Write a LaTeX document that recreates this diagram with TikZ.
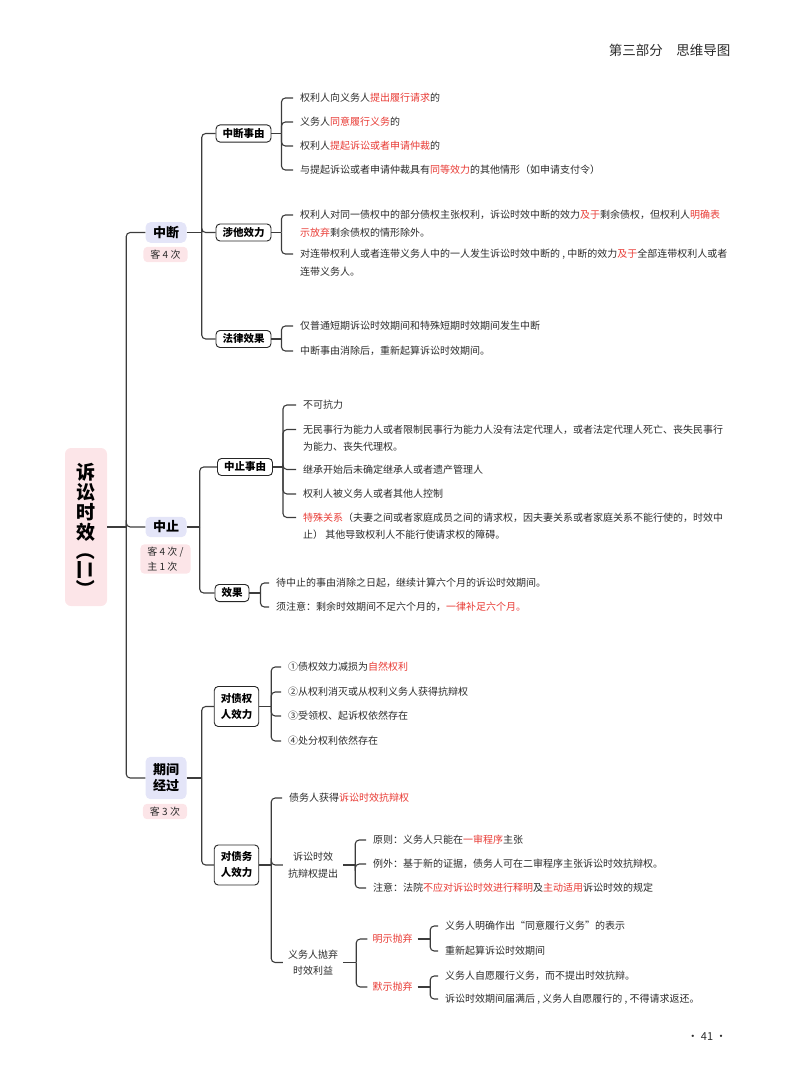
\documentclass[tikz,border=0pt]{standalone}
\usepackage{fontspec}
\setmainfont{Noto Sans CJK SC}
\usetikzlibrary{calc}
\definecolor{hl}{HTML}{E83A34}
\definecolor{ink}{HTML}{2B2B2B}
\definecolor{lnc}{HTML}{3C3C3C}
\definecolor{lav}{HTML}{E4E5F8}
\definecolor{pinkp}{HTML}{FCE5E8}
\newcommand\hr[1]{\textcolor{hl}{#1}}
\newcommand\lstr{\rule{0pt}{9pt}}
\newcommand\lf[4]{\node[leaf] (#1) at (#2-7,#3-5.4) {\lstr #4};
  \coordinate (#1t) at ([yshift=-5.4pt]#1.north west);}
\begin{document}
\begin{tikzpicture}[x=1pt,y=-1pt,
 conn/.style={draw=lnc, line width=1.1pt, rounded corners=4pt},
 leaf/.style={inner xsep=7pt, inner ysep=0pt, anchor=north west, align=left, text=ink, font=\fontsize{10}{17.5}\selectfont},
 midbox/.style={draw=black!85, line width=0.9pt, rounded corners=4pt, fill=white, font=\fontsize{10.5}{16}\selectfont\bfseries, inner xsep=6.5pt, inner ysep=3.5pt, align=center, text=black},
 topbox/.style={fill=lav, rounded corners=5pt, font=\fontsize{13}{16}\selectfont\bfseries, inner xsep=7.5pt, inner ysep=4pt, align=center, text=black},
 pill/.style={fill=pinkp, rounded corners=4pt, font=\fontsize{10}{15}\selectfont, inner xsep=7pt, inner ysep=3pt, align=left, text=ink},
 plain/.style={font=\fontsize{10}{16.5}\selectfont, align=center, text=ink, inner xsep=5pt, inner ysep=1pt},
]
\useasboundingbox (0,0) rectangle (800,1086);

% header and page number
\node[anchor=east, font=\fontsize{13.5}{16}\selectfont, text=ink] (hdr) at (734,50) {第三部分\hspace{1em}思维导图};
\node[font=\fontsize{11}{13}\selectfont, text=ink] (pg) at (707,1037) {· 41 ·};

% root
\node[fill=pinkp, rounded corners=6pt, minimum width=42pt, minimum height=158pt, inner sep=0pt] (root) at (86,527) {};
\node[inner sep=0pt, align=center, font=\fontsize{19}{20}\selectfont\bfseries, text=black] (roott) at (86,531) {诉\\讼\\时\\效\\[-1pt]\rotatebox[origin=c]{-90}{（二）}};

% level 1
\node[topbox] (zd) at (166,232.5) {中断};
\node[pill] (zdp) at (165.5,254.5) {客 4 次};
\node[topbox] (zz) at (166,527) {中止};
\node[pill, inner ysep=2.5pt] (zzp) at (165.5,559) {客 4 次 /\\主 1 次};
\node[topbox, inner ysep=7pt] (qj) at (166,778) {期间\\经过};
\node[pill] (qjp) at (165,811.5) {客 3 次};

\coordinate (rootJ) at ([xshift=19pt]root.east);
\draw[conn] (root.east) -- (rootJ);
\draw[conn] (rootJ) |- (zd.west);
\draw[conn] (rootJ) |- (zz.west);
\draw[conn] (rootJ) |- (qj.west);

% level 2
\node[midbox] (zdsy) at (243.5,133.5) {中断事由};
\node[midbox] (tt) at (243.5,232.5) {涉他效力};
\node[midbox] (fl) at (243.5,339) {法律效果};
\node[midbox] (zzsy) at (245,467) {中止事由};
\node[midbox] (xg) at (232,593) {效果};
\node[midbox, inner ysep=7pt] (zqr) at (236.5,706.5) {对债权\\人效力};
\node[midbox, inner ysep=7pt] (zwr) at (236.5,865) {对债务\\人效力};

\coordinate (zdJ) at ([xshift=15pt]zd.east);
\draw[conn] (zd.east) -- (zdJ);
\draw[conn] (zdJ) |- (zdsy.west);
\draw[conn] (zdJ) |- (tt.west);
\draw[conn] (zdJ) |- (fl.west);

\coordinate (zzJ) at ([xshift=13pt]zz.east);
\draw[conn] (zz.east) -- (zzJ);
\draw[conn] (zzJ) |- (zzsy.west);
\draw[conn] (zzJ) |- (xg.west);

\coordinate (qjJ) at ([xshift=15pt]qj.east);
\draw[conn] (qj.east) -- (qjJ);
\draw[conn] (qjJ) |- (zqr.west);
\draw[conn] (qjJ) |- (zwr.west);

% 中断事由 leaves
\lf{a1}{300}{98}{权利人向义务人\hr{提出履行请求}的}
\lf{a2}{300}{122}{义务人\hr{同意履行义务}的}
\lf{a3}{300}{146}{权利人\hr{提起诉讼或者申请仲裁}的}
\lf{a4}{300}{170}{与提起诉讼或者申请仲裁具有\hr{同等效力}的其他情形（如申请支付令）}
\coordinate (zdsyJ) at ([xshift=10pt]zdsy.east);
\draw[conn] (zdsy.east) -- (zdsyJ);
\foreach \c in {a1,a2,a3,a4} \draw[conn] (zdsyJ) |- (\c t);

% 涉他效力 leaves
\lf{b1}{300}{215}{权利人对同一债权中的部分债权主张权利，诉讼时效中断的效力\hr{及于}剩余债权，但权利人\hr{明确表}\\\hr{示放弃}剩余债权的情形除外。}
\lf{b2}{300}{254}{对连带权利人或者连带义务人中的一人发生诉讼时效中断的 , 中断的效力\hr{及于}全部连带权利人或者\\连带义务人。}
\coordinate (ttJ) at ([xshift=10pt]tt.east);
\draw[conn] (tt.east) -- (ttJ);
\foreach \c in {b1,b2} \draw[conn] (ttJ) |- (\c t);

% 法律效果 leaves
\lf{c1}{300}{326}{仅普通短期诉讼时效期间和特殊短期时效期间发生中断}
\lf{c2}{300}{351}{中断事由消除后，重新起算诉讼时效期间。}
\coordinate (flJ) at ([xshift=10pt]fl.east);
\draw[conn] (fl.east) -- (flJ);
\foreach \c in {c1,c2} \draw[conn] (flJ) |- (\c t);

% 中止事由 leaves
\lf{d1}{303}{405}{不可抗力}
\lf{d2}{303}{429.5}{无民事行为能力人或者限制民事行为能力人没有法定代理人，或者法定代理人死亡、丧失民事行\\为能力、丧失代理权。}
\lf{d3}{303}{469.5}{继承开始后未确定继承人或者遗产管理人}
\lf{d4}{303}{494}{权利人被义务人或者其他人控制}
\lf{d5}{303}{517.5}{\hr{特殊关系}（夫妻之间或者家庭成员之间的请求权，因夫妻关系或者家庭关系不能行使的，时效中\\止） 其他导致权利人不能行使请求权的障碍。}
\coordinate (zzsyJ) at ([xshift=10pt]zzsy.east);
\draw[conn] (zzsy.east) -- (zzsyJ);
\foreach \c in {d1,d2,d3,d4,d5} \draw[conn] (zzsyJ) |- (\c t);

% 效果 leaves
\lf{e1}{276}{583}{待中止的事由消除之日起，继续计算六个月的诉讼时效期间。}
\lf{e2}{276}{607}{须注意：剩余时效期间不足六个月的，\hr{一律补足六个月。}}
\coordinate (xgJ) at ([xshift=11pt]xg.east);
\draw[conn] (xg.east) -- (xgJ);
\foreach \c in {e1,e2} \draw[conn] (xgJ) |- (\c t);

% 对债权人效力 leaves
\lf{f1}{288}{667}{①债权效力减损为\hr{自然权利}}
\lf{f2}{288}{692}{②从权利消灭或从权利义务人获得抗辩权}
\lf{f3}{288}{716}{③受领权、起诉权依然存在}
\lf{f4}{288}{741}{④处分权利依然存在}
\coordinate (zqrJ) at ([xshift=12pt]zqr.east);
\draw[conn] (zqr.east) -- (zqrJ);
\foreach \c in {f1,f2,f3,f4} \draw[conn] (zqrJ) |- (\c t);

% 对债务人效力
\lf{g1}{289}{798}{债务人获得\hr{诉讼时效抗辩权}}
\node[plain] (ksq) at (313,865) {诉讼时效\\抗辩权提出};
\node[plain] (pq) at (313,962.5) {义务人抛弃\\时效利益};
\coordinate (zwrJ) at ([xshift=12pt]zwr.east);
\draw[conn] (zwr.east) -- (zwrJ);
\draw[conn] (zwrJ) |- (g1t);
\draw[conn] (zwrJ) |- (ksq.west);
\draw[conn] (zwrJ) |- (pq.west);

\lf{h1}{373}{840}{原则：义务人只能在\hr{一审程序}主张}
\lf{h2}{373}{864}{例外：基于新的证据，债务人可在二审程序主张诉讼时效抗辩权。}
\lf{h3}{373}{888}{注意：法院\hr{不应对诉讼时效进行释明}及\hr{主动适用}诉讼时效的规定}
\coordinate (ksqJ) at ([xshift=12pt]ksq.east);
\draw[conn] (ksq.east) -- (ksqJ);
\foreach \c in {h1,h2,h3} \draw[conn] (ksqJ) |- (\c t);

\node[plain, text=hl] (ms) at (392.5,939) {明示抛弃};
\node[plain, text=hl] (mos) at (392.5,987) {默示抛弃};
\coordinate (pqJ) at ([xshift=13pt]pq.east);
\draw[conn] (pq.east) -- (pqJ);
\draw[conn] (pqJ) |- (ms.west);
\draw[conn] (pqJ) |- (mos.west);

\lf{i1}{445}{926}{义务人明确作出“同意履行义务”的表示}
\lf{i2}{445}{951}{重新起算诉讼时效期间}
\coordinate (msJ) at ([xshift=12.5pt]ms.east);
\draw[conn] (ms.east) -- (msJ);
\foreach \c in {i1,i2} \draw[conn] (msJ) |- (\c t);

\lf{j1}{445}{976}{义务人自愿履行义务，而不提出时效抗辩。}
\lf{j2}{445}{999}{诉讼时效期间届满后 , 义务人自愿履行的 , 不得请求返还。}
\coordinate (mosJ) at ([xshift=12.5pt]mos.east);
\draw[conn] (mos.east) -- (mosJ);
\foreach \c in {j1,j2} \draw[conn] (mosJ) |- (\c t);

\end{tikzpicture}
\end{document}
